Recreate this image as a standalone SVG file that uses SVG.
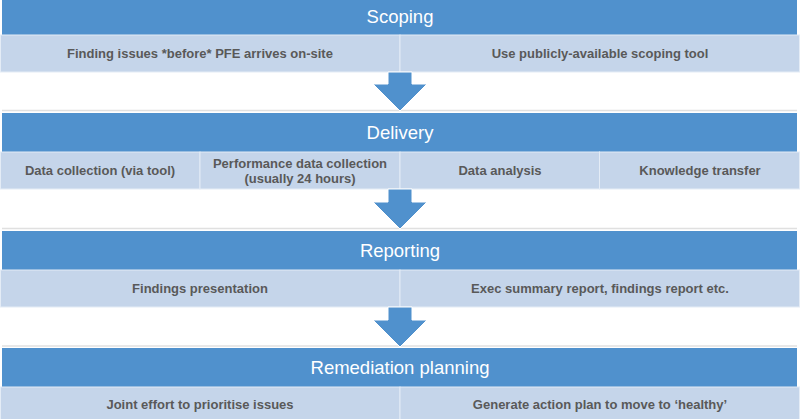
<svg xmlns="http://www.w3.org/2000/svg" width="800" height="419" viewBox="0 0 800 419">
<style>
.hdr{fill:#5091CD}
.cell{fill:#C5D5EA;stroke:#E4ECF6;stroke-width:1}
.sep{stroke:#E0E0E0;stroke-width:1.5}
.ht{font-family:"Liberation Sans",Arial,sans-serif;font-size:18.5px;fill:#FFFFFF;text-anchor:middle}
.ct{font-family:"Liberation Sans",Arial,sans-serif;font-size:13px;font-weight:bold;fill:#595959;text-anchor:middle}
.arr{fill:#5091CD;stroke:#FFFFFF;stroke-width:1}
</style>
<rect width="800" height="419" fill="#FFFFFF"/>
<g id="scoping">
<rect class="hdr" x="2" y="0" width="795" height="35"/>
<text class="ht" x="400" y="23">Scoping</text>
<rect class="cell" x="0.5" y="35" width="399.5" height="37"/>
<rect class="cell" x="400" y="35" width="399.5" height="37"/>
<text class="ct" x="200" y="58">Finding issues *before* PFE arrives on-site</text>
<text class="ct" x="600" y="58">Use publicly-available scoping tool</text>
</g>
<g id="delivery">
<line class="sep" x1="2" y1="110.5" x2="797" y2="110.5"/>
<rect class="hdr" x="2" y="113" width="795" height="39"/>
<text class="ht" x="400" y="139">Delivery</text>
<rect class="cell" x="0.5" y="152" width="199.5" height="37"/>
<rect class="cell" x="200" y="152" width="200" height="37"/>
<rect class="cell" x="400" y="152" width="199.5" height="37"/>
<rect class="cell" x="599.5" y="152" width="200" height="37"/>
<text class="ct" x="100" y="175">Data collection (via tool)</text>
<text class="ct" x="300" y="168">Performance data collection</text>
<text class="ct" x="300" y="183">(usually 24 hours)</text>
<text class="ct" x="500" y="175">Data analysis</text>
<text class="ct" x="700" y="175">Knowledge transfer</text>
</g>
<g id="reporting">
<line class="sep" x1="2" y1="228.5" x2="797" y2="228.5"/>
<rect class="hdr" x="2" y="231" width="795" height="39"/>
<text class="ht" x="400" y="257">Reporting</text>
<rect class="cell" x="0.5" y="270" width="399.5" height="37"/>
<rect class="cell" x="400" y="270" width="399.5" height="37"/>
<text class="ct" x="200" y="293">Findings presentation</text>
<text class="ct" x="600" y="293">Exec summary report, findings report etc.</text>
</g>
<g id="remediation">
<line class="sep" x1="2" y1="346" x2="797" y2="346"/>
<rect class="hdr" x="2" y="348" width="795" height="39"/>
<text class="ht" x="400" y="374">Remediation planning</text>
<rect class="cell" x="0.5" y="387" width="399.5" height="33"/>
<rect class="cell" x="400" y="387" width="399.5" height="33"/>
<text class="ct" x="200" y="409">Joint effort to prioritise issues</text>
<text class="ct" x="600" y="409">Generate action plan to move to ‘healthy’</text>
</g>
<g id="connectors">
<polygon class="arr" points="388,72 412,72 412,84 427,84 400,111 373,84 388,84"/>
<polygon class="arr" points="388,189 412,189 412,202 427,202 400,229 373,202 388,202"/>
<polygon class="arr" points="388,307 412,307 412,320 427,320 400,347 373,320 388,320"/>
</g>
</svg>
